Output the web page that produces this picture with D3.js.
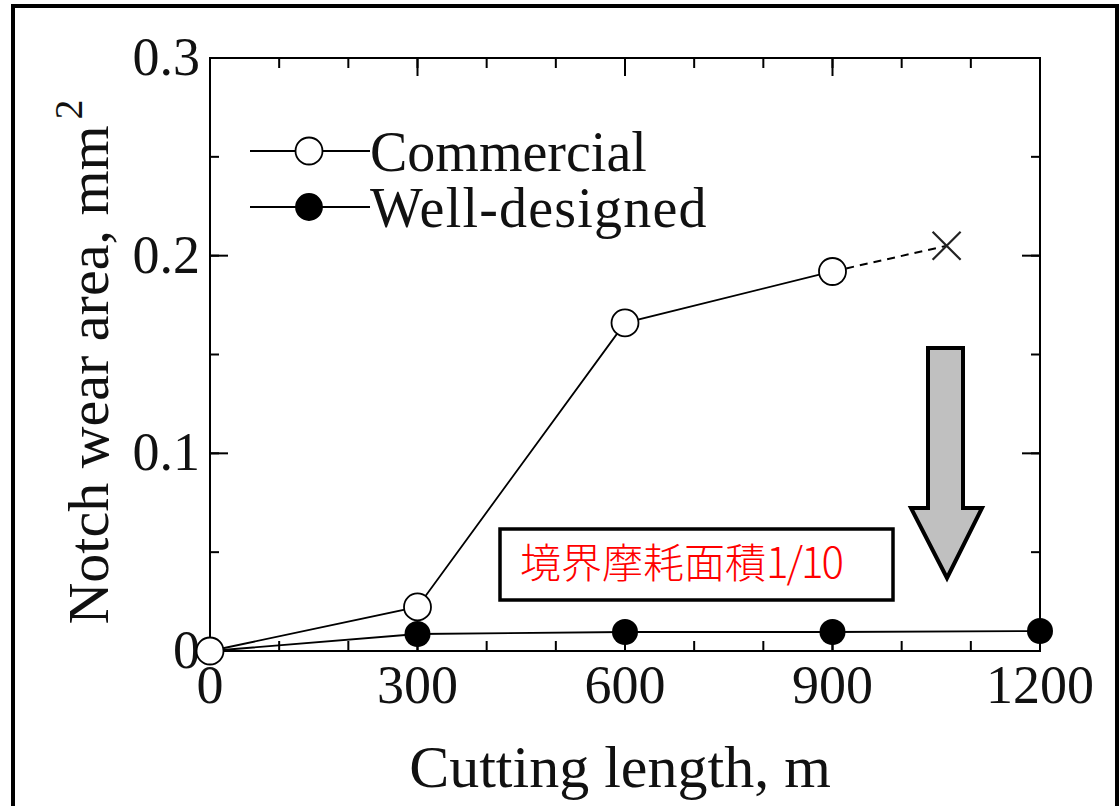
<!DOCTYPE html>
<html>
<head>
<meta charset="utf-8">
<script src="https://cdn.jsdelivr.net/npm/d3@7"></script>
<style>
  html, body { margin: 0; padding: 0; background: #fff; }
  svg { display: block; }
</style>
</head>
<body>
<svg id="chart" width="1120" height="806"></svg>
<script>
// Cutting length (m) at each measurement
const lengths = [0, 300, 600, 900, 1200];
// Notch wear area (mm^2)
const commercial = [0, 0.0223, 0.166, 0.192];
const wellDesigned = [0, 0.0086, 0.0096, 0.0096, 0.0101];
// Commercial tool failure point (end of dashed segment)
const failureLength = 1065;
const failureWear = 0.205;

const xTicks = [0, 300, 600, 900, 1200];
const yTicks = [0, 0.1, 0.2, 0.3];
const xMinor = d3.range(0, 1201, 100);
const yMinor = d3.range(0, 0.301, 0.05);

const seriesNames = ["Commercial", "Well-designed"];
const noteText = "境界摩耗面積";
const noteRatio = "1/10";

const svg = d3.select("#chart");
const L = 210, R = 1040, T = 58, B = 651;
const x = d3.scaleLinear().domain([0, 1200]).range([L, R]);
const y = d3.scaleLinear().domain([0, 0.3]).range([B, T]);
const serif = "'Liberation Serif', 'Times New Roman', serif";

// outer frame
svg.append("rect").attr("x", 13).attr("y", 6).attr("width", 1104).attr("height", 812)
  .attr("fill", "#fff").attr("stroke", "#000").attr("stroke-width", 4);

// inward ticks on all four sides
const g = svg.append("g");
function ticks(axis, values, len) {
  values.forEach(v => {
    if (axis === "x") {
      const px = x(v);
      g.append("line").attr("x1", px).attr("x2", px).attr("y1", B).attr("y2", B - len).attr("stroke", "#000").attr("stroke-width", 2);
      g.append("line").attr("x1", px).attr("x2", px).attr("y1", T).attr("y2", T + len).attr("stroke", "#000").attr("stroke-width", 2);
    } else {
      const py = y(v);
      g.append("line").attr("y1", py).attr("y2", py).attr("x1", L).attr("x2", L + len).attr("stroke", "#000").attr("stroke-width", 2);
      g.append("line").attr("y1", py).attr("y2", py).attr("x1", R).attr("x2", R - len).attr("stroke", "#000").attr("stroke-width", 2);
    }
  });
}
ticks("x", xMinor, 10);
ticks("x", xTicks, 18);
ticks("y", yMinor, 9);
ticks("y", yTicks, 18);

g.append("rect").attr("x", L).attr("y", T).attr("width", R - L).attr("height", B - T)
  .attr("fill", "none").attr("stroke", "#000").attr("stroke-width", 2);

// tick labels
svg.append("g").selectAll("text").data(xTicks).join("text")
  .attr("x", d => x(d)).attr("y", B + 52).attr("text-anchor", "middle")
  .attr("font-family", serif).attr("font-size", 54).attr("fill", "#111")
  .text(d => d);
svg.append("g").selectAll("text").data(yTicks).join("text")
  .attr("x", 200).attr("y", d => y(d) + 17).attr("text-anchor", "end")
  .attr("font-family", serif).attr("font-size", 54).attr("fill", "#111")
  .text(d => d === 0 ? "0" : d3.format(".1f")(d));

// axis titles
svg.append("text").attr("x", 620).attr("y", 787).attr("text-anchor", "middle")
  .attr("font-family", serif).attr("font-size", 60).attr("fill", "#111")
  .text("Cutting length, m");
const yt = svg.append("text").attr("transform", "translate(108,362) rotate(-90)")
  .attr("text-anchor", "middle").attr("font-family", serif).attr("font-size", 58).attr("fill", "#111");
yt.append("tspan").text("Notch wear area, mm");
yt.append("tspan").attr("font-size", 40).attr("dx", 6).attr("dy", -26).text("2");

// lines
const line = d3.line().x(d => x(d[0])).y(d => y(d[1]));
const comPts = commercial.map((v, i) => [lengths[i], v]);
const wellPts = wellDesigned.map((v, i) => [lengths[i], v]);
svg.append("path").attr("d", line(wellPts)).attr("fill", "none").attr("stroke", "#000").attr("stroke-width", 1.8);
svg.append("path").attr("d", line(comPts)).attr("fill", "none").attr("stroke", "#000").attr("stroke-width", 1.8);
svg.append("path").attr("d", line([comPts[comPts.length - 1], [failureLength, failureWear]]))
  .attr("fill", "none").attr("stroke", "#000").attr("stroke-width", 2).attr("stroke-dasharray", "8,6");

// failure cross
const fx = x(failureLength), fy = y(failureWear);
svg.append("path").attr("d", `M${fx - 14},${fy - 14}L${fx + 14},${fy + 14}M${fx - 14},${fy + 14}L${fx + 14},${fy - 14}`)
  .attr("stroke", "#222").attr("stroke-width", 2.2);

// markers
svg.append("g").selectAll("circle").data(wellPts).join("circle")
  .attr("cx", d => x(d[0])).attr("cy", d => y(d[1])).attr("r", 13).attr("fill", "#000");
svg.append("g").selectAll("circle").data(comPts).join("circle")
  .attr("cx", d => x(d[0])).attr("cy", d => y(d[1])).attr("r", 13.5)
  .attr("fill", "#fff").attr("stroke", "#000").attr("stroke-width", 1.8);

// legend
const leg = svg.append("g");
[[151, false, 0], [207, true, 1.2]].forEach(([ly, filled, sp], i) => {
  leg.append("line").attr("x1", 250).attr("x2", 370).attr("y1", ly).attr("y2", ly).attr("stroke", "#000").attr("stroke-width", 1.8);
  leg.append("circle").attr("cx", 309).attr("cy", ly).attr("r", filled ? 13 : 13.5)
    .attr("fill", filled ? "#000" : "#fff").attr("stroke", "#000").attr("stroke-width", 1.8);
  leg.append("text").attr("x", 370).attr("y", ly + 20).attr("font-family", serif).attr("font-size", 56)
    .attr("letter-spacing", sp).attr("fill", "#111")
    .text(seriesNames[i]);
});

// annotation box
svg.append("rect").attr("x", 500).attr("y", 529).attr("width", 393).attr("height", 71)
  .attr("fill", "#fff").attr("stroke", "#000").attr("stroke-width", 3.5);
const note = svg.append("text").attr("x", 520).attr("y", 578)
  .attr("font-family", "'Noto Sans CJK JP', sans-serif").attr("font-weight", 300)
  .attr("font-size", 41).attr("fill", "#ff0000");
note.append("tspan").text(noteText);
note.append("tspan").attr("font-size", 42).attr("letter-spacing", -2).text(noteRatio);

// downward arrow
svg.append("path")
  .attr("d", "M928,348 L963,348 L963,508 L982,508 L947,578 L911,508 L928,508 Z")
  .attr("fill", "#c0c0c0").attr("stroke", "#000").attr("stroke-width", 4).attr("stroke-linejoin", "miter");
</script>
</body>
</html>
